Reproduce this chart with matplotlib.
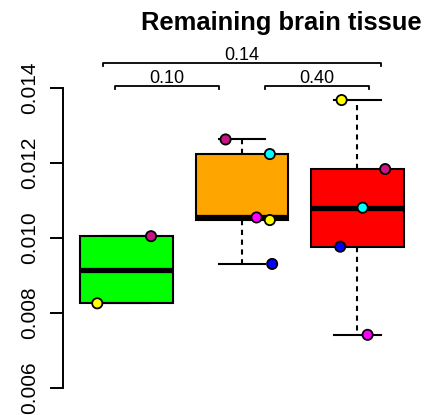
import matplotlib
matplotlib.use("Agg")
import matplotlib.pyplot as plt
import numpy as np

plt.rcParams['font.family'] = ['Liberation Sans', 'DejaVu Sans']

# data
groups = ["A", "B", "C"]
box_colors = ["#00ff00", "#ffa500", "#ff0000"]
values = [
    [0.01004, 0.00825],
    [0.01262, 0.01223, 0.01054, 0.01047, 0.00930],
    [0.01367, 0.01183, 0.01080, 0.00976, 0.00741],
]
point_x = [
    [1.214, 0.749],
    [1.859, 2.242, 2.127, 2.242, 2.262],
    [2.863, 3.240, 3.045, 2.851, 3.088],
]
point_colors = [
    ["#c71585", "#ffff00"],
    ["#c71585", "#00ffff", "#ff00ff", "#ffff00", "#0000ff"],
    ["#ffff00", "#c71585", "#00ffff", "#0000ff", "#ff00ff"],
]
# (left, right, label, level)
comparisons = [(0.9, 1.8, "0.10", 0.014045), (2.2, 3.1, "0.40", 0.014045),
               (0.8, 3.2, "0.14", 0.014659)]
yticks = [0.006, 0.008, 0.010, 0.012, 0.014]


def fivenum(v):
    v = np.sort(np.asarray(v))
    n = len(v)
    n4 = np.floor((n + 3) / 2) / 2
    d = np.array([1, n4, (n + 1) / 2, n + 1 - n4, n]) - 1
    return 0.5 * (v[np.floor(d).astype(int)] + v[np.ceil(d).astype(int)])


W, H = 428, 415
fig = plt.figure(figsize=(W / 100, H / 100), dpi=100)
ax = fig.add_axes([63.3 / W, 0, (421 - 63.3) / W, (H - 50) / H])

stats = []
for v in values:
    lo, q1, med, q3, hi = fivenum(v)
    stats.append(dict(whislo=lo, q1=q1, med=med, q3=q3, whishi=hi, fliers=[]))

bp = ax.bxp(stats, positions=[1, 2, 3], widths=0.8, patch_artist=True,
            showfliers=False,
            boxprops=dict(linewidth=1.5, edgecolor="black"),
            medianprops=dict(linewidth=3.8, color="black", solid_capstyle="butt"),
            whiskerprops=dict(linewidth=1.5, linestyle=(0, (2.5, 2.2)), color="black"),
            capprops=dict(linewidth=1.5, color="black"),
            capwidths=0.4)
for patch, c in zip(bp["boxes"], box_colors):
    patch.set_facecolor(c)

for xs, ys, cs in zip(point_x, values, point_colors):
    ax.scatter(xs, ys, s=54, c=cs, edgecolors="black", linewidths=1.3,
               zorder=5, clip_on=False)

for x0, x1, lab, y in comparisons:
    tk = 0.00009
    ax.plot([x0, x0, x1, x1], [y - tk, y, y, y - tk], color="black",
            linewidth=1.3, clip_on=False)
    ax.text((x0 + x1) / 2, y + 0.00008, lab, ha="center", va="baseline",
            fontsize=13)

ax.set_xlim(0.455, 3.55)
ax.set_ylim(0.005272, 0.015005)
ax.set_yticks(yticks)
ax.set_yticklabels([f"{t:.3f}" for t in yticks])
ax.tick_params(axis="y", length=9.5, width=1.4, pad=8, labelsize=15,
               labelrotation=90)
for lbl in ax.get_yticklabels():
    lbl.set_va("center")
ax.set_xticks([])
for s in ["top", "right", "bottom"]:
    ax.spines[s].set_visible(False)
ax.spines["left"].set_bounds(0.006, 0.014)
ax.spines["left"].set_linewidth(1.4)
ax.patch.set_visible(False)

fig.text(281 / W, 1 - 30 / H, "Remaining brain tissue", ha="center",
         va="baseline", fontsize=18.4, fontweight="bold")

fig.savefig("out.png", dpi=100)
